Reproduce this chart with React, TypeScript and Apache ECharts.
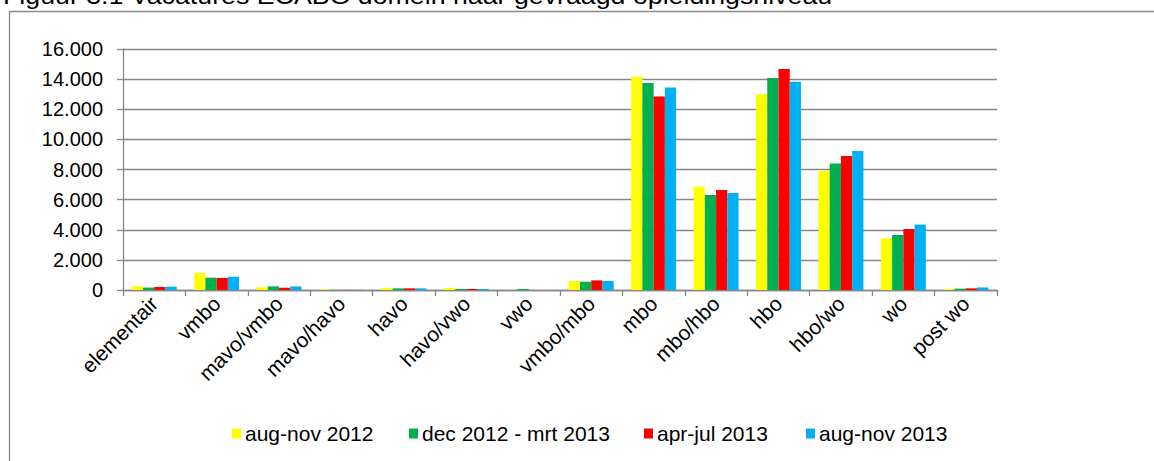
import React, { useEffect, useRef } from "react";
import * as echarts from "echarts";

const categories = [
  "elementair", "vmbo", "mavo/vmbo", "mavo/havo", "havo", "havo/vwo", "vwo",
  "vmbo/mbo", "mbo", "mbo/hbo", "hbo", "hbo/wo", "wo", "post wo",
];
const seriesNames = ["aug-nov 2012", "dec 2012 - mrt 2013", "apr-jul 2013", "aug-nov 2013"];
const augNov2012 = [250, 1130, 180, 40, 130, 130, 0, 600, 14150, 6850, 13000, 7900, 3430, 70];
const dec2012Mrt2013 = [160, 820, 240, 10, 110, 70, 70, 550, 13750, 6300, 14070, 8400, 3650, 90];
const aprJul2013 = [200, 800, 150, 10, 110, 70, 0, 640, 12850, 6640, 14670, 8900, 4050, 110];
const augNov2013 = [220, 880, 240, 10, 110, 70, 0, 600, 13450, 6440, 13830, 9230, 4340, 170];
const seriesColors = ["#FFFF00", "#00B050", "#FF0000", "#00B0F0"];
const legendLefts = [232, 409, 644, 806];
const titleText = "Figuur 3.1 Vacatures ECABG domein naar gevraagd opleidingsniveau";

const FONT = '"Liberation Sans", Arial, sans-serif';

function fmt(v: number): string {
  const s = String(Math.round(v));
  return s.replace(/\B(?=(\d{3})+(?!\d))/g, ".");
}

export default function App() {
  const ref = useRef<HTMLDivElement>(null);
  useEffect(() => {
    if (!ref.current) return;
    const chart = echarts.init(ref.current, null, { renderer: "svg" });
    const allData = [augNov2012, dec2012Mrt2013, aprJul2013, augNov2013];
    chart.setOption({
      animation: false,
      backgroundColor: "#ffffff",
      textStyle: { fontFamily: FONT },
      graphic: [
        {
          type: "rect",
          shape: { x: 9.5, y: 11.5, width: 1160, height: 470 },
          style: { fill: "none", stroke: "#8a8a8a", lineWidth: 1.3 },
          silent: true,
        },
        {
          type: "text",
          x: 3,
          y: 7,
          scaleX: 1.115,
          style: {
            text: titleText,
            x: 0,
            y: 0,
            fill: "#000000",
            font: `24px ${FONT}`,
            verticalAlign: "bottom",
            align: "left",
          },
          silent: true,
        },
      ],
      legend: seriesNames.map((name, i) => ({
        data: [name],
        left: legendLefts[i],
        top: 423,
        orient: "horizontal",
        icon: "rect",
        itemWidth: 9,
        itemHeight: 10,
        itemGap: 5,
        padding: 0,
        selectedMode: false,
        textStyle: { fontFamily: FONT, fontSize: 21, color: "#000000", padding: [0, 0, 0, -1] },
      })),
      grid: {
        left: 123,
        right: 157,
        top: 49,
        bottom: 171,
        containLabel: false,
        outerBoundsMode: "none",
      },
      xAxis: {
        type: "category",
        data: categories,
        boundaryGap: true,
        axisLine: { show: true, lineStyle: { color: "#888888", width: 1.3 } },
        axisTick: { show: true, length: 6, alignWithLabel: false, lineStyle: { color: "#888888", width: 1.3 } },
        axisLabel: {
          interval: 0,
          rotate: 45,
          margin: 10,
          fontFamily: FONT,
          fontSize: 21,
          color: "#000000",
        },
        splitLine: { show: false },
      },
      yAxis: {
        type: "value",
        min: 0,
        max: 16000,
        interval: 2000,
        axisLine: { show: true, lineStyle: { color: "#888888", width: 1.3 } },
        axisTick: { show: true, length: 6, lineStyle: { color: "#888888", width: 1.3 } },
        axisLabel: {
          margin: 20,
          fontFamily: FONT,
          fontSize: 20,
          color: "#000000",
          formatter: (v: number) => fmt(v),
        },
        splitLine: { show: true, lineStyle: { color: "#878787", width: 1.3 } },
      },
      series: seriesNames.map((name, i) => ({
        name,
        type: "bar",
        data: allData[i],
        barGap: "0%",
        barCategoryGap: "28%",
        itemStyle: { color: seriesColors[i] },
      })),
    });
    return () => chart.dispose();
  }, []);
  return (
    <div
      ref={ref}
      style={{ position: "fixed", left: 0, top: 0, width: 1154, height: 461 }}
    />
  );
}
